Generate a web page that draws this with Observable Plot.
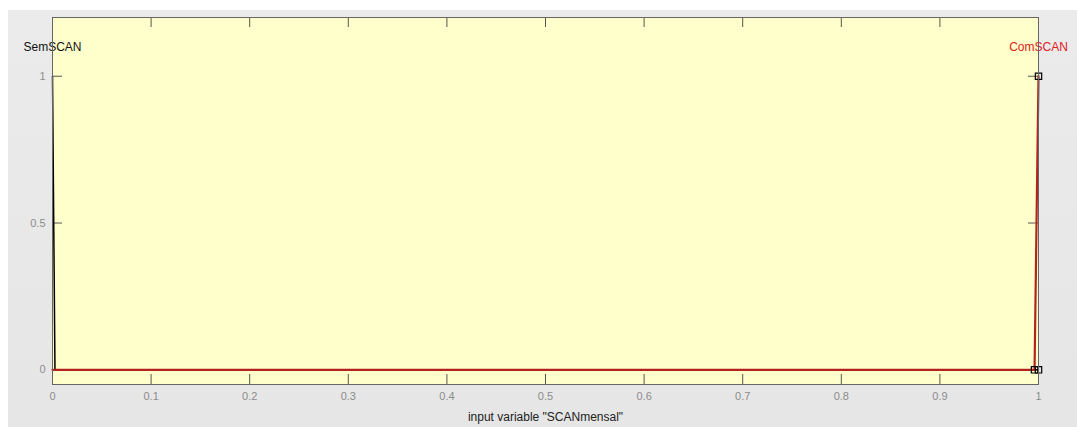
<!DOCTYPE html>
<html>
<head>
<meta charset="utf-8">
<script src="https://cdn.jsdelivr.net/npm/d3@7"></script>
<script src="https://cdn.jsdelivr.net/npm/@observablehq/plot@0.6"></script>
<style>
  html, body { margin: 0; padding: 0; background: #ffffff; width: 1077px; height: 427px; overflow: hidden; }
  #bg { position: absolute; left: 8px; top: 10px; width: 1069px; height: 417px; background: linear-gradient(#ebebeb, #e6e6e6); }
  #chart { position: absolute; left: 0; top: 0; }
</style>
</head>
<body>
<div id="bg"></div>
<div id="chart"></div>
<script>
// membership function names, label positions and colours
const mfNames = ["SemSCAN", "ComSCAN"];
const mfLabelX = [0, 1];
const mfLabelY = [1.1, 1.1];
const mfColors = ["#111111", "#e02020"];

// SemSCAN curve points
const semX = [0, 0.0025, 1];
const semY = [1, 0, 0];
// ComSCAN curve points
const comX = [0, 0.996, 1];
const comY = [0, 0, 1];
// selected MF handle points (ComSCAN)
const handleX = [1, 0.996, 1];
const handleY = [1, 0, 0];

const xTicks = [0, 0.1, 0.2, 0.3, 0.4, 0.5, 0.6, 0.7, 0.8, 0.9, 1];
const yTicks = [0, 0.5, 1];
const xLabel = 'input variable "SCANmensal"';

const W = 1077, H = 427;
const mL = 52, mR = 39, mT = 17, mB = 43;
const frameW = W - mL - mR, frameH = H - mT - mB;

const sem = semX.map((x, i) => ({x, y: semY[i]}));
const com = comX.map((x, i) => ({x, y: comY[i]}));
const handles = handleX.map((x, i) => ({x, y: handleY[i]}));
const labels = mfNames.map((n, i) => ({name: n, x: mfLabelX[i], y: mfLabelY[i], color: mfColors[i]}));
const fmt = d => String(d);

const chart = Plot.plot({
  width: W, height: H,
  marginLeft: mL, marginRight: mR, marginTop: mT, marginBottom: mB,
  style: {background: "transparent", fontFamily: "'Liberation Sans', Arial, sans-serif", overflow: "visible"},
  x: {domain: [0, 1], axis: null},
  y: {domain: [-0.05, 1.2], axis: null},
  marks: [
    Plot.frame({fill: "#ffffcc", stroke: null}),
    // tick labels
    Plot.axisX(xTicks, {tickSize: 0, tickPadding: 8, tickFormat: fmt, fill: "#8c8c8c", fontSize: 11, label: null}),
    Plot.axisY(yTicks, {tickSize: 0, tickPadding: 7, tickFormat: fmt, fill: "#8c8c8c", fontSize: 11, label: null}),
    // inward ticks
    Plot.tickX(xTicks, {x: d => d, insetTop: frameH - 10, stroke: "#555", strokeWidth: 1}),
    Plot.tickX(xTicks, {x: d => d, insetBottom: frameH - 10, stroke: "#555", strokeWidth: 1}),
    Plot.tickY(yTicks, {y: d => d, insetRight: frameW - 10, stroke: "#555", strokeWidth: 1}),
    Plot.tickY(yTicks, {y: d => d, insetLeft: frameW - 10, stroke: "#555", strokeWidth: 1}),
    // membership functions
    Plot.line(sem, {x: "x", y: "y", stroke: "#000", strokeWidth: 1.5}),
    Plot.line(com, {x: "x", y: "y", stroke: "#b3231d", strokeWidth: 2.2}),
    Plot.dot(handles, {x: "x", y: "y", symbol: "square", r: 3.6, stroke: "#000", fill: "none", strokeWidth: 1.2}),
    // MF names
    Plot.text(labels, {x: "x", y: "y", text: "name", fill: "color", fontSize: 12, textAnchor: "middle"}),
    // axis title
    Plot.text([xLabel], {frameAnchor: "bottom", dy: 36, text: d => d, fill: "#222", fontSize: 12}),
    Plot.frame({stroke: "#666", strokeWidth: 1})
  ]
});
document.getElementById("chart").appendChild(chart);
</script>
</body>
</html>
